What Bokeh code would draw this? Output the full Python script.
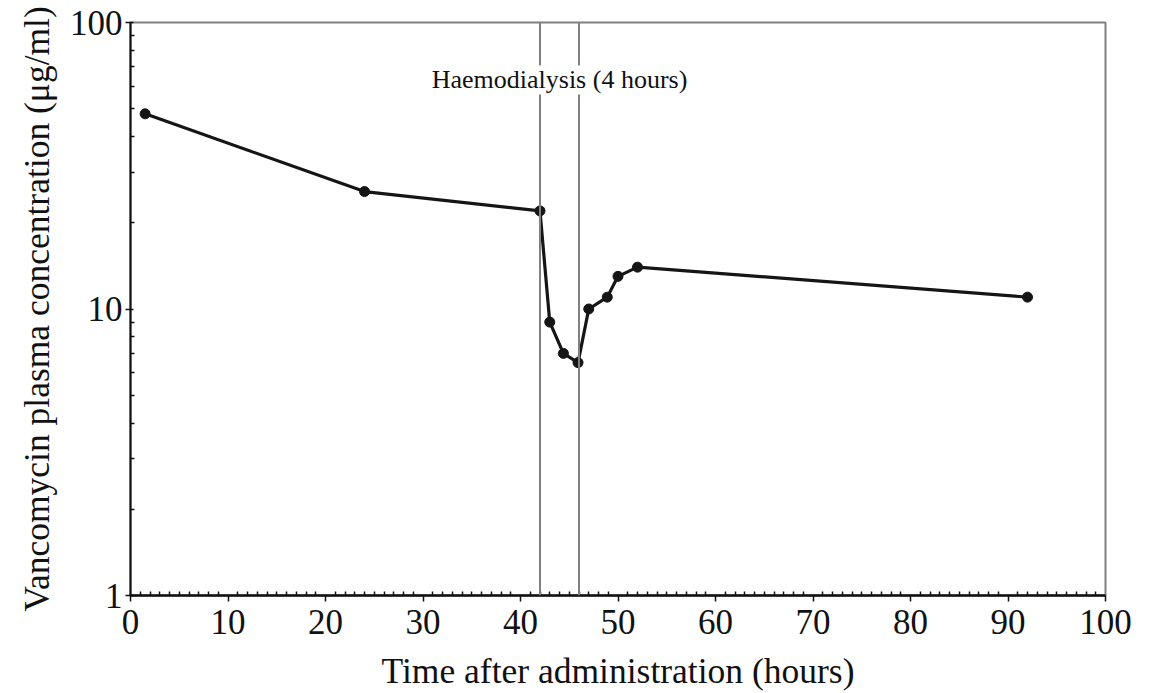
from bokeh.plotting import figure
from bokeh.models import FixedTicker, PrintfTickFormatter, Span, Label, ColumnDataSource
from bokeh.embed import file_html
from bokeh.resources import INLINE

# Data
time_h = [1.5, 24, 42, 43, 44.4, 45.9, 47, 48.9, 50, 52, 92]
conc = [48, 25.7, 22, 9.0, 7.0, 6.5, 10, 11, 13, 14, 11]
dialysis_start = 42
dialysis_end = 46
dialysis_label = "Haemodialysis (4 hours)"
x_ticks = [0, 10, 20, 30, 40, 50, 60, 70, 80, 90, 100]
y_ticks = [1, 10, 100]

FONT = "Liberation Serif"

p = figure(width=1150, height=693, x_range=(0, 100), y_range=(1, 100),
           y_axis_type="log", output_backend="svg", toolbar_location=None,
           min_border_left=130, min_border_right=45, min_border_top=22,
           min_border_bottom=98)
p.xgrid.visible = False
p.ygrid.visible = False
p.outline_line_color = "#808080"
p.outline_line_width = 2
p.background_fill_color = "white"
p.border_fill_color = "white"

# x axis
x_minor = [i for i in range(0, 101) if i % 10 != 0]
p.xaxis.ticker = FixedTicker(ticks=x_ticks, minor_ticks=x_minor)
p.xaxis.axis_line_color = "#111111"
p.xaxis.axis_line_width = 2.5
p.xaxis.major_tick_out = 6
p.xaxis.major_tick_in = 0
p.xaxis.minor_tick_in = 4
p.xaxis.minor_tick_out = 0
p.xaxis.major_tick_line_width = 1.5
p.xaxis.major_tick_line_color = "#111111"
p.xaxis.minor_tick_line_color = "#111111"
p.xaxis.minor_tick_line_width = 1.5
p.xaxis.major_label_standoff = 8
p.xaxis.axis_label = "Time after administration (hours)"
p.xaxis.axis_label_standoff = 14

# y axis
y_minor = [m * d for d in (1, 10) for m in range(2, 10)]
p.yaxis.ticker = FixedTicker(ticks=y_ticks, minor_ticks=y_minor)
p.yaxis.formatter = PrintfTickFormatter(format="%d")
p.yaxis.axis_line_color = "#111111"
p.yaxis.axis_line_width = 2
p.yaxis.major_tick_out = 5
p.yaxis.major_tick_in = 3
p.yaxis.minor_tick_in = 4
p.yaxis.minor_tick_out = 0
p.yaxis.major_tick_line_width = 1.5
p.yaxis.major_tick_line_color = "#111111"
p.yaxis.minor_tick_line_color = "#111111"
p.yaxis.minor_tick_line_width = 1.5
p.yaxis.major_label_standoff = 3
p.yaxis.axis_label = "Vancomycin plasma concentration (μg/ml)"
p.yaxis.axis_label_standoff = 10

for ax in (p.xaxis, p.yaxis):
    ax.major_label_text_font = FONT
    ax.major_label_text_font_size = "35px"
    ax.major_label_text_color = "#111111"
    ax.axis_label_text_font = FONT
    ax.axis_label_text_font_size = "35.5px"
    ax.axis_label_text_font_style = "normal"
    ax.axis_label_text_color = "#111111"

# dialysis lines
for xv in (dialysis_start, dialysis_end):
    p.add_layout(Span(location=xv, dimension="height", line_color="#808080",
                      line_width=2))

p.add_layout(Label(x=(dialysis_start + dialysis_end) / 2, y=63, text=dialysis_label,
                   text_align="center", text_baseline="middle",
                   text_font=FONT, text_font_size="26px", text_color="#111111",
                   background_fill_color="white", background_fill_alpha=1.0))

src = ColumnDataSource(dict(t=time_h, c=conc))
p.line("t", "c", source=src, line_color="#151515", line_width=3.2)
p.scatter("t", "c", source=src, size=10, fill_color="#151515", line_color="#151515")

open("out.html", "w").write(file_html(p, INLINE))
